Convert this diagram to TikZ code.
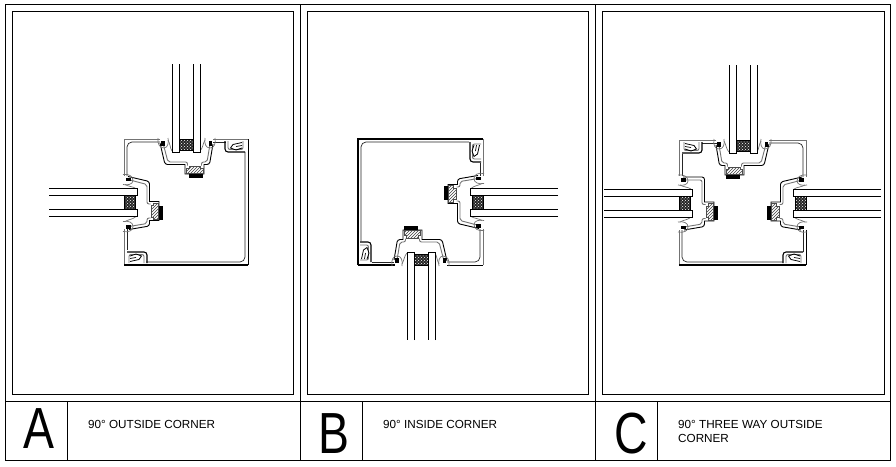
\documentclass[tikz,border=0pt]{standalone}
\usepackage{fontspec}
\setmainfont{Liberation Sans}
\usetikzlibrary{patterns}
\tikzset{
  frameline/.style={black,line width=0.9pt},
  wallblack/.style={black,line width=0.9pt},
  wallheavy/.style={black,line width=1.4pt},
  wallgray/.style={black!55,line width=1pt},
  innerline/.style={black!85,line width=0.7pt,rounded corners=5pt},
  thinline/.style={black!55,line width=0.7pt},
  paneline/.style={black,line width=1pt,fill=white},
  spacerfill/.style={preaction={fill=black!85},pattern=crosshatch dots,pattern color=white},
  isofill/.style={draw=black!70,line width=0.5pt,preaction={fill=white},pattern=north east lines,pattern color=black!75},
  bigletter/.style={font=\fontsize{58}{58}\selectfont,xscale=0.8,anchor=base},
  legendtext/.style={font=\fontsize{11.7}{14}\selectfont,anchor=base west,inner sep=0pt}
}
% #1 position, #2 u vector, #3 v vector, #4 u of the tie corner
\newcommand{\glazejoint}[4]{
  \begin{scope}[shift={#1},x={#2},y={#3}]
    \draw[wallblack] (-26,4) [rounded corners=2.5pt] -- (#4,25.5) [sharp corners] -- (-1,25.5) -- (-1,35) -- (18,35) -- (18,25.5) [rounded corners=2.5pt] -- (23.5,25.5) -- (27,5);
    \draw[thinline,line width=0.9pt,rounded corners=2pt] (-23,4) -- (#4+3,23) -- (1.5,23) -- (1.5,26.5);
    \draw[thinline,line width=0.9pt,rounded corners=2pt] (15.5,26.5) -- (15.5,23) -- (21,23) -- (24,5);
    \draw[isofill] (0.5,34.5) -- (0.5,29.5) -- (3,29.5) -- (3,27) -- (14.5,27) -- (14.5,29.5) -- (17,29.5) -- (17,34.5) -- cycle;
    \fill[black] (3,35) rectangle (17,39);
    \draw[thinline] (-28,-1) .. controls (-29,5) and (-26,9) .. (-22,9) .. controls (-18,9) and (-17,3) .. (-18,-1);
    \draw[thinline] (19,-1) .. controls (18,5) and (20,9) .. (24,9) .. controls (28,9) and (30,5) .. (29,-1);
    \fill[black] (-25,2) rectangle (-21.5,7);
    \fill[black] (22.5,2) rectangle (26,7);
    \draw[thinline] (-18,1) .. controls (-16,4) and (-16,9) .. (-14,12);
    \draw[thinline] (19,1) .. controls (17,4) and (17,9) .. (14,12);
    \draw[spacerfill] (-7,0) rectangle (7,11);
    \draw[paneline] (-14,-75) -- (-14,13) -- (-7,13) -- (-7,-75);
    \draw[paneline] (7,-75) -- (7,13) -- (14,13) -- (14,-75);
  \end{scope}
}
% #1 position, #2 a vector, #3 b vector
\newcommand{\cornerclip}[3]{
  \begin{scope}[shift={#1},x={#2},y={#3}]
    \draw[wallblack,line width=1.1pt,rounded corners=3pt] (23,2) -- (23,13) -- (3,13);
    \draw[thinline,line width=0.9pt,rounded corners=2pt] (20,2) -- (20,10.5) -- (5,10.5) -- (5,2);
    \draw[black,line width=0.8pt] (6,3.5) -- (15,5.5) -- (17.5,9) -- (12,11) -- (6,9);
    \draw[black,line width=0.7pt] (6,6.5) -- (12,7.5);
  \end{scope}
}
\begin{document}
\begin{tikzpicture}[x=1pt,y=-1pt]
  \useasboundingbox (0,0) rectangle (896,466);
  \fill[white] (0,0) rectangle (896,466);
  % sheet
  \draw[frameline] (5,4) rectangle (890.5,460);
  \draw[frameline] (5,401) -- (890.5,401);
  \draw[frameline] (300,4) -- (300,460);
  \draw[frameline] (595.5,4) -- (595.5,460);
  \draw[frameline] (67,401) -- (67,460);
  \draw[frameline] (362,401) -- (362,460);
  \draw[frameline] (657.5,401) -- (657.5,460);
  \draw[frameline] (12,11) rectangle (293.5,394.5);
  \draw[frameline] (307,11) rectangle (588.5,394.5);
  \draw[frameline] (602,11) rectangle (884.5,394.5);
  % A
  \draw[wallgray] (160,139) -- (124,139) -- (124,176);
  \draw[wallgray] (124,229) -- (124,265);
  \draw[wallblack] (248,265) -- (248,139);
  \draw[wallgray] (248,139) -- (213,139);
  \draw[wallheavy] (124,265) -- (248,265);
  \draw[innerline] (160,142) -- (127,142) -- (127,176);
  \draw[innerline] (127,229) -- (127,250);
  \draw[innerline] (146,262) -- (245,262) -- (245,152);
  \draw[innerline] (213,142) -- (226,142);
  \cornerclip{(248,139)}{(-1pt,0pt)}{(0pt,-1pt)}
  \cornerclip{(124,265)}{(1pt,0pt)}{(0pt,1pt)}
  \glazejoint{(186,139)}{(1pt,0pt)}{(0pt,-1pt)}{-21}
  \glazejoint{(124,202.5)}{(0pt,-1pt)}{(1pt,0pt)}{-21}
  % B
  \draw[wallheavy] (483,139) -- (358,139) -- (358,265);
  \draw[wallheavy] (358,265) -- (395,265);
  \draw[wallblack] (447,265) -- (483,265);
  \draw[wallgray] (483,265) -- (483,229);
  \draw[wallgray] (483,176) -- (483,139);
  \draw[innerline] (469,142) -- (361,142) -- (361,241);
  \draw[innerline] (372,262) -- (394,262);
  \draw[innerline] (447,262) -- (480,262) -- (480,229);
  \draw[innerline] (480,176) -- (480,163);
  \cornerclip{(483,139)}{(0pt,-1pt)}{(-1pt,0pt)}
  \cornerclip{(358,265)}{(0pt,1pt)}{(1pt,0pt)}
  \glazejoint{(421,265)}{(-1pt,0pt)}{(0pt,1pt)}{-21}
  \glazejoint{(483,202.5)}{(0pt,1pt)}{(-1pt,0pt)}{-21}
  % C
  \draw[wallgray] (716,140) -- (679,140) -- (679,176);
  \draw[wallgray] (679,230) -- (679,265);
  \draw[wallgray] (769,140) -- (806,140) -- (806,177);
  \draw[wallblack] (806,230) -- (806,265);
  \draw[wallheavy] (679,265) -- (806,265);
  \draw[innerline] (702,143) -- (717,143);
  \draw[innerline] (769,143) -- (803,143) -- (803,177);
  \draw[innerline] (803,230) -- (803,252);
  \draw[innerline] (783,262) -- (682,262) -- (682,230);
  \draw[innerline] (682,176) -- (682,154);
  \cornerclip{(679,140)}{(1pt,0pt)}{(0pt,-1pt)}
  \cornerclip{(806,265)}{(-1pt,0pt)}{(0pt,1pt)}
  \glazejoint{(743,140)}{(-1pt,0pt)}{(0pt,-1pt)}{-21}
  \glazejoint{(679,203)}{(0pt,-1pt)}{(1pt,0pt)}{-26}
  \glazejoint{(806,203)}{(0pt,-1pt)}{(-1pt,0pt)}{-21}
  % legend
  \node[bigletter] (lettera) at (39,448) {A};
  \node[bigletter] (letterb) at (334,453) {B};
  \node[bigletter] (letterc) at (631,453) {C};
  \node[legendtext] (labela) at (88,428) {90° OUTSIDE CORNER};
  \node[legendtext] (labelb) at (383,428) {90° INSIDE CORNER};
  \node[legendtext,align=left] (labelc) at (678,442) {90° THREE WAY OUTSIDE\\CORNER};
\end{tikzpicture}
\end{document}
